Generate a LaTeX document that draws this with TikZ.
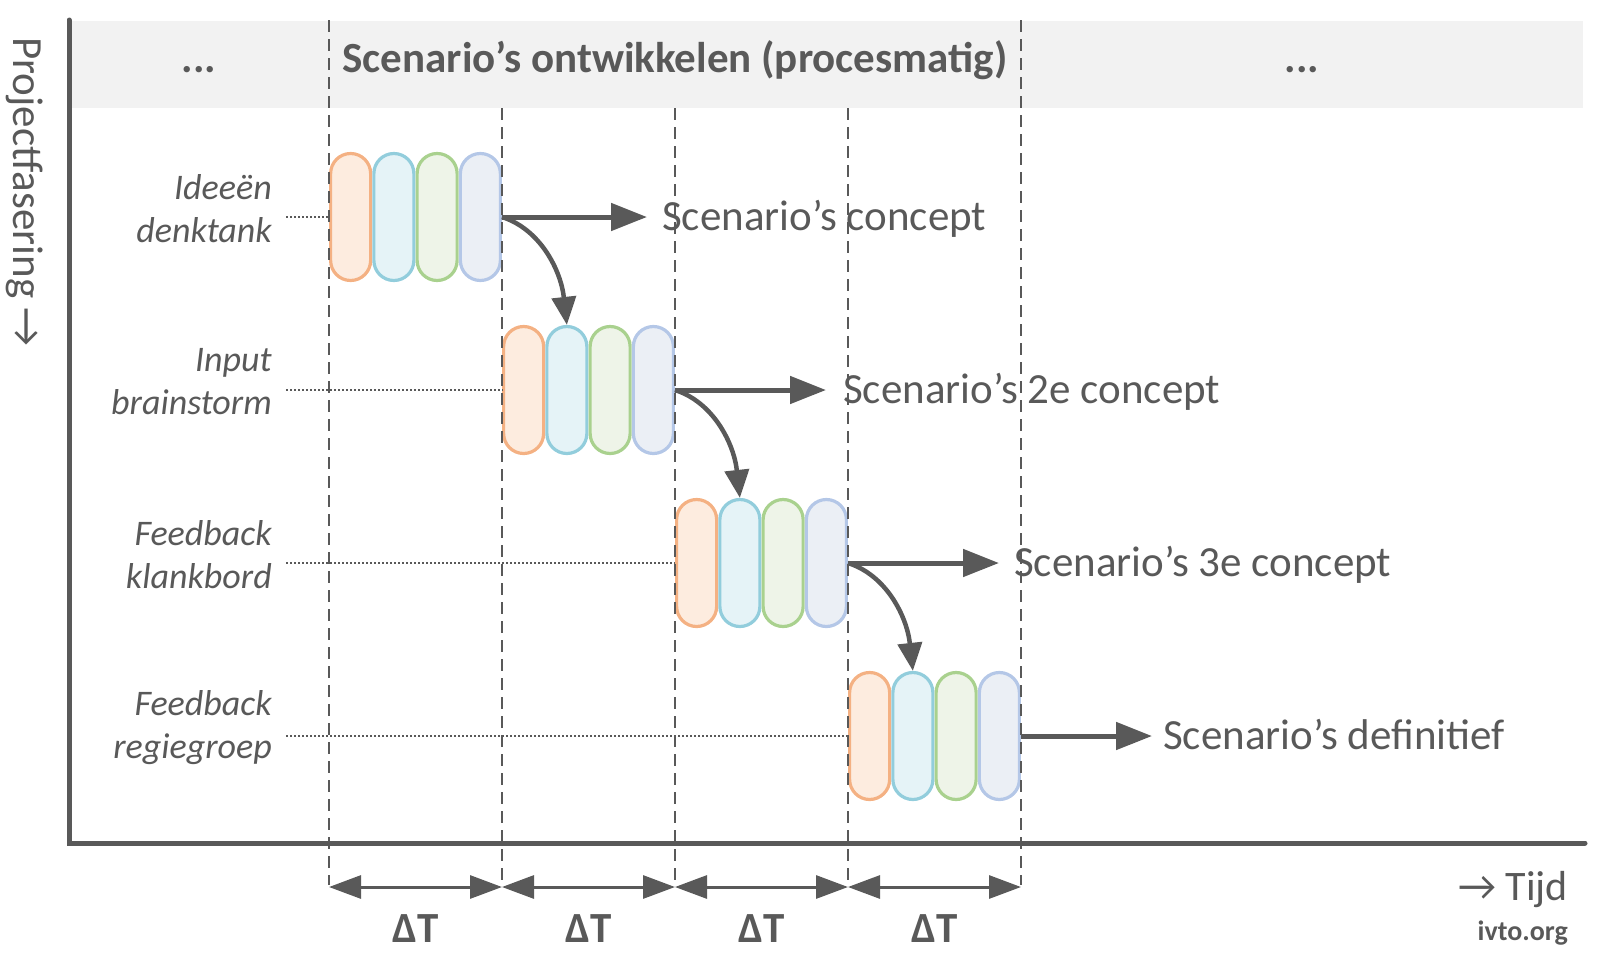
\documentclass[tikz,border=0pt]{standalone}
\usepackage{fontspec}
\setmainfont{Carlito}
\newfontfamily\arrowfont{Carlito}
\usetikzlibrary{arrows.meta}
\definecolor{dg}{HTML}{595959}
\definecolor{band}{HTML}{F2F2F2}
\definecolor{orS}{HTML}{F4B183}
\definecolor{orF}{HTML}{FDECDF}
\definecolor{blS}{HTML}{92CDDC}
\definecolor{blF}{HTML}{E5F3F7}
\definecolor{grS}{HTML}{A9D18E}
\definecolor{grF}{HTML}{EEF4E8}
\definecolor{gbS}{HTML}{B4C7E7}
\definecolor{gbF}{HTML}{EBEFF5}
\tikzset{
  pill/.style={rounded corners=20pt, line width=3.2pt, minimum width=40pt, minimum height=127pt, inner sep=0pt},
  vdash/.style={draw=dg, line width=2.5pt, dash pattern=on 12pt off 7pt},
  dotline/.style={draw=dg, line width=1.5pt, dash pattern=on 2pt off 2pt},
  harrow/.style={draw=dg, line width=5pt, -{Triangle[length=36pt,width=27pt]}},
  carrow/.style={draw=dg, line width=4.5pt, -{Triangle[length=28pt,width=24pt]}},
  dtarrow/.style={draw=dg, line width=3pt, {Triangle[length=32pt,width=23pt]}-{Triangle[length=32pt,width=23pt]}},
  axisline/.style={draw=dg, line width=5pt, line cap=round},
  lab/.style={text=dg, font=\fontsize{36}{43}\selectfont\itshape, align=right, anchor=east, inner xsep=14pt, inner ysep=0pt},
  concept/.style={text=dg, font=\fontsize{43}{50}\selectfont, anchor=base west, inner ysep=0pt},
  hdr/.style={text=dg, font=\fontsize{43}{50}\selectfont\bfseries, anchor=base, inner sep=0pt},
  dtlab/.style={text=dg, font=\fontsize{43}{50}\selectfont\bfseries, anchor=base, inner sep=0pt}
}
\begin{document}
\begin{tikzpicture}[x=1pt,y=-1pt]
\useasboundingbox (0,0) rectangle (1603,961);
% header band
\fill[band] (71,21) rectangle (1583,108);
\node[hdr] (hleft) at (199,72) {...};
\node[hdr] (hmid) at (675,72) {Scenario’s ontwikkelen (procesmatig)};
\node[hdr] (hright) at (1302,72) {...};
% pills
\foreach \r in {0,...,3} {
  \foreach \k/\sc/\fc in {1/orS/orF,2/blS/blF,3/grS/grF,4/gbS/gbF} {
    \node[pill, draw=\sc, fill=\fc] (p\r\k) at ({329+173*\r+43.25*(\k-0.5)}, {217+173*\r}) {};
  }
}
% dashed column lines
\foreach \k in {0,...,4} {
  \coordinate (b\k) at ({329+173*\k}, 885);
  \coordinate (t\k) at ({329+173*\k}, 887);
}
\coordinate (a0) at (329,20);
\coordinate (a4) at (1021,20);
\coordinate (a1) at (502,108);
\coordinate (a2) at (675,108);
\coordinate (a3) at (848,108);
\foreach \k in {0,...,4} { \draw[vdash] (a\k) -- (b\k); }
% axes
\coordinate (origin) at (69,843);
\coordinate (ytop) at (69,20);
\coordinate (xend) at (1585,843);
\draw[axisline] (ytop) -- (origin) -- (xend);
% labels
\node[lab] (l0) at (286,209) {Ideeën\\denktank};
\node[lab] (l1) at (286,382) {Input\\brainstorm};
\node[lab] (l2) at (286,555) {Feedback\\klankbord};
\node[lab] (l3) at (286,728) {Feedback\\regiegroep};
\foreach \r in {0,...,3} { \draw[dotline] (p\r1.west -| l\r.east) -- (p\r1.west); }
% concept texts
\node[concept, inner xsep=15pt] (c0) at (647,230) {Scenario’s concept};
\node[concept, inner xsep=17pt] (c1) at (826,403) {Scenario’s 2e concept};
\node[concept, inner xsep=15pt] (c2) at (999,576) {Scenario’s 3e concept};
\node[concept, inner xsep=11pt] (c3) at (1152,749) {Scenario’s definitief};
\foreach \r in {0,...,3} { \draw[harrow] (p\r4.east) -- (p\r4.east -| c\r.west); }
% curved arrows
\draw[carrow] (p04.east) .. controls +(38,12) and +(-6,-55) .. (p12.north);
\draw[carrow] (p14.east) .. controls +(38,12) and +(-6,-55) .. (p22.north);
\draw[carrow] (p24.east) .. controls +(38,12) and +(-6,-55) .. (p32.north);
% delta T
\foreach \k [evaluate=\k as \n using int(\k+1)] in {0,...,3} {
  \draw[dtarrow] (t\k) -- (t\n);
  \node[dtlab] (dt\k) at ({415.5+173*\k},942) {ΔT};
}
% y-axis title
\node[text=dg, font=\fontsize{43}{50}\selectfont, rotate=-90, anchor=base west, inner sep=0pt] (ytitle) at (13,37) {Projectfasering {\arrowfont →}};
% x-axis title
\node[text=dg, font=\fontsize{42}{50}\selectfont, anchor=base east, inner sep=0pt] (xtitle) at (1568,900) {{\arrowfont →} Tijd};
\node[text=dg, font=\fontsize{28}{33}\selectfont\bfseries, anchor=base east, inner sep=0pt] (src) at (1568,940) {ivto.org};
\end{tikzpicture}
\end{document}
